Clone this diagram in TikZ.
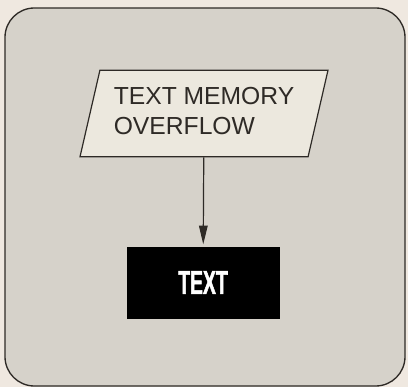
\documentclass[tikz,border=0pt]{standalone}
\usepackage{fontspec}
\setmainfont{Liberation Sans}
\newfontfamily\narrowfont[FakeStretch=0.58,FakeBold=1.5]{Liberation Sans Bold}
\usepackage{tikz}
\usetikzlibrary{arrows.meta,shapes.geometric,positioning}
\usepackage{xcolor}
\definecolor{paper}{HTML}{EFE8E0}
\definecolor{panel}{HTML}{D6D2CA}
\definecolor{slip}{HTML}{ECE8DE}
\definecolor{ink}{HTML}{2E2A26}
\begin{document}
\begin{tikzpicture}[x=0.75pt,y=0.75pt,
  iobox/.style={trapezium,trapezium left angle=72,trapezium right angle=108,
    trapezium stretches body,draw=ink,line width=0.9pt,fill=slip,
    minimum width=186pt,minimum height=65pt,inner sep=0pt,text=ink},
  blackbox/.style={rectangle,fill=black,draw=black,minimum width=114pt,
    minimum height=53pt,text=white}]
\fill[paper] (0,0) rectangle (408,387);
\useasboundingbox (0,0) rectangle (408,387);
\draw[ink,line width=1pt,fill=panel,rounded corners=22pt] (5,379) rectangle (405,1);

\node[iobox] (overflow) at (204,273.5)
  {\fontsize{18.5pt}{23pt}\selectfont\begin{tabular}{@{}l@{}}TEXT MEMORY\\OVERFLOW\end{tabular}};
\node[blackbox] (text) at (203,104.5)
  {\narrowfont\fontsize{25pt}{27pt}\selectfont TEXT};

\draw[-{Triangle[length=14pt,width=6.5pt]},ink,line width=0.9pt,shorten >=2pt] (overflow) -- (text);
\end{tikzpicture}
\end{document}
